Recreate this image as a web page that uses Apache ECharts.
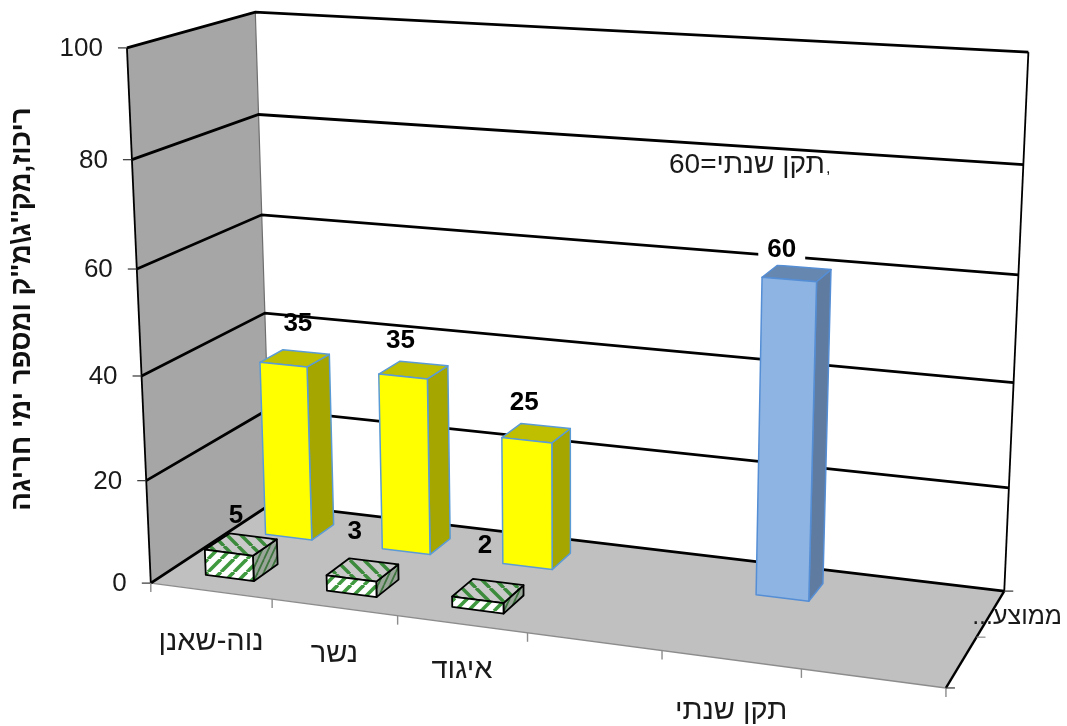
<!DOCTYPE html>
<html lang="he">
<head>
<meta charset="utf-8">
<title>ריכוז</title>
<style>
html,body{margin:0;padding:0;background:#fff}
#chart{width:1067px;height:726px}
</style>
<script src="https://cdn.jsdelivr.net/npm/echarts@6/dist/echarts.min.js"></script>
</head>
<body>
<div id="chart"></div>
<script>
// Chart values
const categories = ['נוה-שאנן', 'נשר', 'איגוד', '', 'תקן שנתי', ''];
const valueTicks = [0, 20, 40, 60, 80, 100];
const frontRowValues = [5, 3, 2, null, null, null];
const backRowValues = [35, 35, 25, null, 60, null];
const depthLabels = ['', 'ממוצע...\u200F'];
const axisTitle = 'ריכוז,מק\u0027\u0027ג\\מ\u0027\u0027ק ומספר ימי חריגה';
const standardNote = '60=תקן שנתי';

// Camera calibration: box corners (x 0..1, value 0..1, depth 0..1) against page pixels
const calibration = [
  [0, 0, 0, 150.5, 583], [0, 1, 0, 127, 48], [0, 1, 1, 255, 12], [1, 1, 1, 1028, 52],
  [1, 0, 1, 1004, 591], [1, 0, 0, 946, 688], [0, 0, 1, 271, 504],
  [0, .6, 0, 137, 269], [0, .6, 1, 262, 215], [1, .6, 1, 1019, 275]
];

// Least-squares fit of the 3x4 projective matrix
function fitCamera(rows) {
  const A = [], b = [];
  rows.forEach(([x, y, z, px, py]) => {
    const u = px / 1000, v = py / 1000;
    A.push([x, y, z, 1, 0, 0, 0, 0, -u * x, -u * y, -u * z]); b.push(u);
    A.push([0, 0, 0, 0, x, y, z, 1, -v * x, -v * y, -v * z]); b.push(v);
  });
  const n = 11;
  const M = [];
  for (let i = 0; i < n; i++) {
    M.push(new Array(n + 1).fill(0));
    for (let j = 0; j < n; j++) A.forEach(r => { M[i][j] += r[i] * r[j]; });
    A.forEach((r, k) => { M[i][n] += r[i] * b[k]; });
  }
  for (let c = 0; c < n; c++) {
    let piv = c;
    for (let r = c + 1; r < n; r++) if (Math.abs(M[r][c]) > Math.abs(M[piv][c])) piv = r;
    [M[c], M[piv]] = [M[piv], M[c]];
    for (let r = 0; r < n; r++) {
      if (r === c) continue;
      const f = M[r][c] / M[c][c];
      for (let k = c; k <= n; k++) M[r][k] -= f * M[c][k];
    }
  }
  return M.map((row, i) => row[n] / row[i]);
}
const cam = fitCamera(calibration);
function project(x, y, z) {
  const w = cam[8] * x + cam[9] * y + cam[10] * z + 1;
  return [1000 * (cam[0] * x + cam[1] * y + cam[2] * z + cam[3]) / w,
          1000 * (cam[4] * x + cam[5] * y + cam[6] * z + cam[7]) / w];
}

// Turn axis pixels from the hidden grid into box coordinates
const W = 1067, H = 726;
const unitOf = (api, cat, val) => {
  const p = api.coord([cat, val]);
  return [p[0] / W, (H - p[1]) / H];
};

// Hatch tiles for the front row of bars
function hatchTile(w, h, bg, fg, lw, slashes) {
  const c = document.createElement('canvas');
  c.width = w; c.height = h;
  const g = c.getContext('2d');
  g.fillStyle = bg; g.fillRect(0, 0, w, h);
  g.strokeStyle = fg; g.lineWidth = lw;
  for (let k = -1; k <= 1; k++) {
    g.beginPath();
    if (slashes) { g.moveTo(k * w, h); g.lineTo(k * w + w, 0); }
    else { g.moveTo(k * w, 0); g.lineTo(k * w + w, h); }
    g.stroke();
  }
  return { image: c, repeat: 'repeat' };
}
const hatchFront = hatchTile(13, 13, '#ffffff', '#3f9a3f', 3.6, true);
const hatchTop = hatchTile(14, 14, '#c9c9c9', '#3c8a3c', 3.4, false);
const hatchSide = hatchTile(6, 13, '#9aa59a', '#3e743e', 1.8, true);

const line = (pts, stroke, lineWidth) => ({
  type: 'polyline', shape: { points: pts }, style: { stroke, lineWidth, fill: null }, silent: true
});
const poly = (pts, fill, stroke, lineWidth) => ({
  type: 'polygon', shape: { points: pts }, style: { fill, stroke, lineWidth, lineJoin: 'round' }, silent: true
});
const label = (text, x, y, font, align, extra) => ({
  type: 'text', silent: true,
  style: Object.assign({ text, x, y, font, fill: '#111', align, verticalAlign: 'middle' }, extra || {})
});

const FONT = '"Liberation Sans", Arial, sans-serif';

// Walls and floor of the box
function renderFrame() {
  const p = project;
  return { type: 'group', children: [
    poly([p(0,0,1), p(1,0,1), p(1,1,1), p(0,1,1)], '#ffffff', null, 0),
    poly([p(0,0,0), p(0,0,1), p(0,1,1), p(0,1,0)], '#a6a6a6', null, 0),
    poly([p(0,0,0), p(1,0,0), p(1,0,1), p(0,0,1)], '#c0c0c0', null, 0),
    line([p(0,1,1), p(0,0,1)], '#6e6e6e', 1.2),
    line([p(0,1,0), p(0,0,0)], '#000', 1.8),
    line([p(1,1,1), p(1,0,1)], '#000', 1.8),
    line([p(0,0,0), p(1,0,0)], '#8c8c8c', 1.4),
    line([p(1,0,0), p(1,0,1)], '#000', 2.4)
  ] };
}

// One value level: line around both walls, tick and tick label
function renderValueTick(params, api) {
  const v = unitOf(api, 0, api.value(1))[1];
  const front = project(0, v, 0);
  return { type: 'group', children: [
    line([front, project(0, v, 1), project(1, v, 1)], '#000', 2.8),
    line([[front[0] - 9, front[1]], front], '#333', 1.2),
    label(String(api.value(1)), front[0] - 24, front[1] + 1, '26px ' + FONT, 'right', { fill: '#1a1a1a' })
  ] };
}

// Category ticks below the floor and their labels
const categoryLabelDrop = 48;
const categoryLabelNudge = [3, -1, -2, 0, 3, 0];
function renderCategory(params, api) {
  const i = api.value(0);
  const band = api.size([1, 0])[0] / W;
  const c = unitOf(api, i, 0)[0];
  const a = project(c - band / 2, 0, 0);
  const kids = [line([a, [a[0], a[1] + 9]], '#8c8c8c', 1.4)];
  if (i === categories.length - 1) {
    const e = project(c + band / 2, 0, 0);
    kids.push(line([e, [e[0], e[1] + 9]], '#8c8c8c', 1.4));
  }
  const m = project(c, 0, 0);
  kids.push(label(categories[i], m[0], m[1] + categoryLabelDrop + categoryLabelNudge[i], '29px ' + FONT, 'center', { fill: '#1a1a1a' }));
  return { type: 'group', children: kids };
}

// Depth axis ticks at the right floor edge
function renderDepthAxis() {
  const kids = [];
  for (let k = 0; k <= depthLabels.length; k++) {
    const t = project(1, 0, k / depthLabels.length);
    kids.push(line([t, [t[0] + 9, t[1]]], k === 1 ? '#8c8c8c' : '#333', 1.2));
  }
  const s = project(1, 0, 1);
  kids.push(label(depthLabels[1], 1062, s[1] + 26, '25px ' + FONT, 'right', { fill: '#1a1a1a' }));
  return { type: 'group', children: kids };
}

// Offset of each value label from the centre of its bar top
const labelOffsets = {
  back: [[3, -34], [-13, -29], [-12, -30], null, [-15, -24], null],
  front: [[-5, -29], [-8, -38], [-3, -45], null, null, null]
};

const barStyles = {
  yellow: { front: '#ffff00', top: '#bfbf00', side: '#a6a600', edge: '#5b9bd5' },
  blue: { front: '#8db4e2', top: '#6687b0', side: '#5f7b9f', edge: '#558ed5' },
  hatch: { front: hatchFront, top: hatchTop, side: hatchSide, edge: '#000000' }
};

const BAR_SHARE = 0.4;
function makeBarRenderer(rowIndex, offsets, styleOf) {
  const rows = depthLabels.length;
  return function (params, api) {
    const i = api.value(0), val = api.value(1);
    const band = api.size([1, 0])[0] / W;
    const [c, v] = unitOf(api, i, val);
    const half = band * BAR_SHARE / 2;
    const x0 = c - half, x1 = c + half;
    const zc = (rowIndex + 0.5) / rows, zh = BAR_SHARE / rows / 2;
    const z0 = zc - zh, z1 = zc + zh;
    const s = styleOf(i);
    const lw = s === barStyles.hatch ? 1.8 : 1.5;
    const p = project;
    const centre = p(c, v, zc);
    const off = offsets[i] || [0, 0];
    const big = val === 60;
    return { type: 'group', children: [
      poly([p(x1,0,z0), p(x1,0,z1), p(x1,v,z1), p(x1,v,z0)], s.side, s.edge, lw),
      poly([p(x0,v,z0), p(x1,v,z0), p(x1,v,z1), p(x0,v,z1)], s.top, s.edge, lw),
      poly([p(x0,0,z0), p(x1,0,z0), p(x1,v,z0), p(x0,v,z0)], s.front, s.edge, lw),
      label(String(val), centre[0] + off[0], centre[1] + off[1], 'bold 26px ' + FONT, 'center',
        big ? { fill: '#000', backgroundColor: '#fff', padding: [2, 9, 2, 9] } : { fill: '#000' })
    ] };
  };
}

const toItems = arr => arr.map((v, i) => (v === null ? null : [i, v])).filter(Boolean);
const base = { type: 'custom', coordinateSystem: 'cartesian2d', silent: true, animation: false, clip: false };
const backStyle = i => (categories[i] === 'תקן שנתי' ? barStyles.blue : barStyles.yellow);

const chart = echarts.init(document.getElementById('chart'), null, { renderer: 'canvas' });
chart.setOption({
  animation: false,
  backgroundColor: '#ffffff',
  grid: { left: 0, right: 0, top: 0, bottom: 0 },
  xAxis: { type: 'category', data: categories, show: false },
  yAxis: { type: 'value', min: 0, max: 100, interval: 20, show: false },
  tooltip: { show: false },
  graphic: [
    { type: 'text', silent: true, z: 50, x: 22, y: 309, rotation: Math.PI / 2,
      style: { text: axisTitle, font: 'bold 27.6px ' + FONT, fill: '#111', align: 'center', verticalAlign: 'middle' } },
    { type: 'text', silent: true, z: 50, x: 669, y: 165,
      style: { text: standardNote, font: '28px ' + FONT, fill: '#1a1a1a', align: 'left', verticalAlign: 'middle' } },
    { type: 'text', silent: true, z: 50, x: 826, y: 169,
      style: { text: ',', font: '16px ' + FONT, fill: '#1a1a1a', align: 'left', verticalAlign: 'middle' } }
  ],
  series: [
    Object.assign({}, base, { name: 'frame', data: [[0, 0]], renderItem: renderFrame }),
    Object.assign({}, base, { name: 'levels', data: valueTicks.map(v => [0, v]), renderItem: renderValueTick }),
    Object.assign({}, base, { name: 'categories', data: categories.map((c, i) => [i, 0]), renderItem: renderCategory }),
    Object.assign({}, base, { name: 'depth', data: [[0, 0]], renderItem: renderDepthAxis }),
    Object.assign({}, base, { name: 'back row', data: toItems(backRowValues),
      renderItem: makeBarRenderer(1, labelOffsets.back, backStyle) }),
    Object.assign({}, base, { name: 'front row', data: toItems(frontRowValues),
      renderItem: makeBarRenderer(0, labelOffsets.front, () => barStyles.hatch) })
  ]
});
</script>
</body>
</html>
